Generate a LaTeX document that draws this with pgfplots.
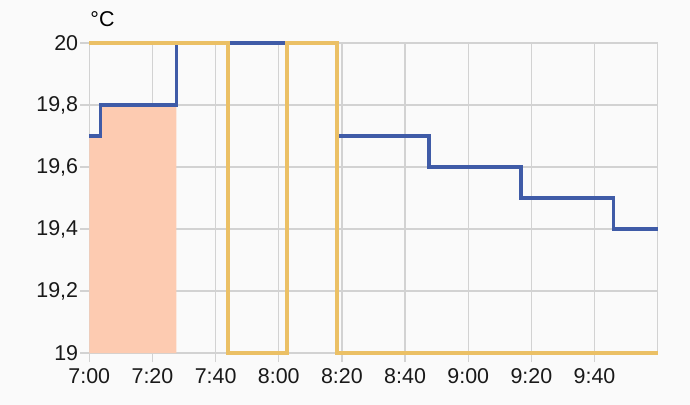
\documentclass[border=0pt]{standalone}
\usepackage{pgfplots}
\pgfplotsset{compat=1.18}
\usepackage{fontspec}
\setmainfont{Liberation Sans}
\definecolor{bg}{HTML}{FAFAFA}
\definecolor{gridc}{HTML}{D2D2D2}
\definecolor{blueL}{HTML}{3F5BA7}
\definecolor{yellowL}{HTML}{EBC065}
\definecolor{fillC}{HTML}{FDCBB1}
\begin{document}
\begin{tikzpicture}
\fill[bg] (-89.3bp,-52bp) rectangle (600.7bp,353bp);
\begin{axis}[
  at={(0,0)}, anchor=south west,
  scale only axis, width=568.4bp, height=310bp,
  xmin=0, xmax=180, ymin=19, ymax=20,
  clip=false,
  xtick={0,20,...,160},
  xticklabels={7:00,7:20,7:40,8:00,8:20,8:40,9:00,9:20,9:40},
  ytick={19,19.2,19.4,19.6,19.8,20},
  /pgf/number format/assume math mode=true,
  /pgf/number format/use comma,
  /pgf/number format/fixed,
  /pgf/number format/precision=1,
  grid=major,
  major grid style={gridc, line width=1.4bp},
  axis line style={gridc, line width=1.4bp},
  tick style={gridc, line width=1.4bp},
  tick align=outside,
  major tick length=9bp,
  xtick pos=left, ytick pos=left,
  ticklabel style={font=\fontsize{21.5}{25}\selectfont, text=black!90},
  yticklabel style={inner sep=0pt, xshift=-2bp},
  xticklabel style={inner sep=0pt, yshift=-6bp},
]
\addplot[fill=fillC, draw=none] coordinates {(0,19) (0,19.7) (3.5,19.7) (3.5,19.8) (27.6,19.8) (27.6,19)} -- cycle;
\addplot[blueL, line width=3.2bp, const plot, mark=none] coordinates {(0,19.7) (3.5,19.8) (27.6,20) (78.5,19.7) (107.6,19.6) (136.7,19.5) (166.1,19.4) (180,19.4)};
\addplot[yellowL, line width=3.8bp, const plot, mark=none] coordinates {(0,20) (43.9,19) (62.7,20) (78.5,19) (180,19)};
\node[anchor=base west, inner sep=0pt, font=\fontsize{21.5}{25}\selectfont] at (rel axis cs:0,1) [yshift=16bp, xshift=1bp] {°C};
\end{axis}
\pgfresetboundingbox
\path[use as bounding box] (-89.3bp,-52bp) rectangle (600.7bp,353bp);
\end{tikzpicture}
\end{document}
